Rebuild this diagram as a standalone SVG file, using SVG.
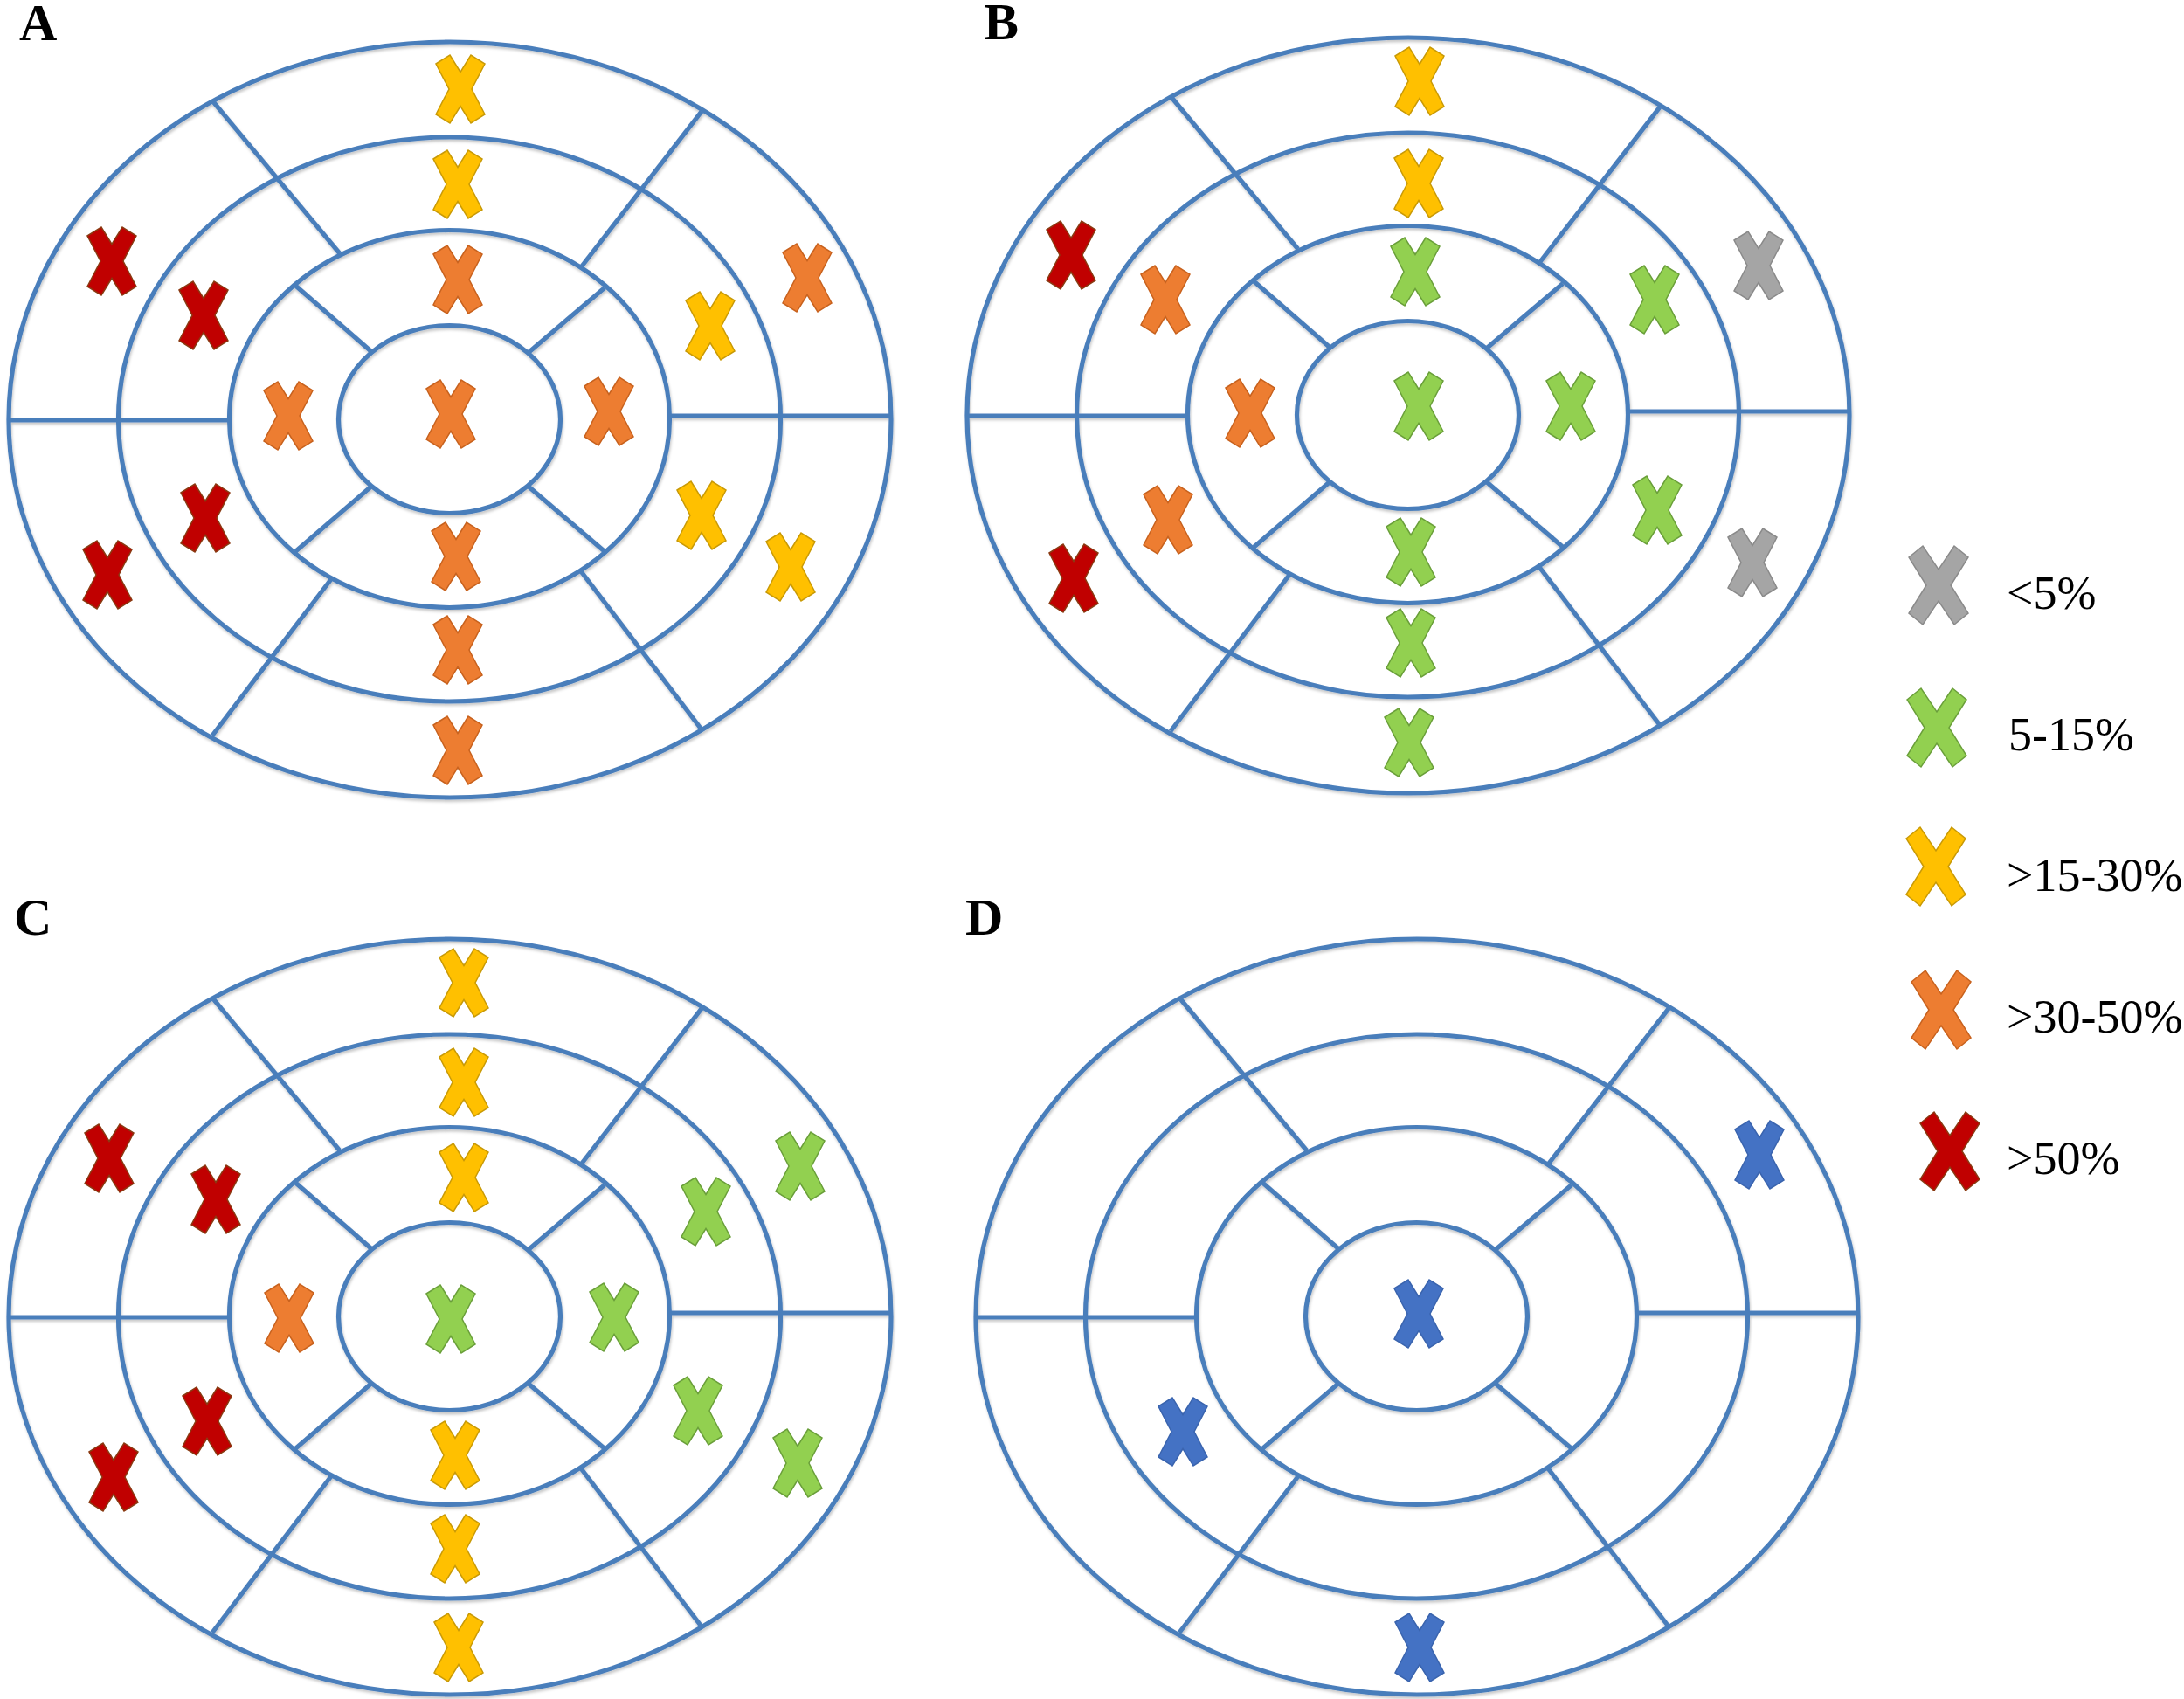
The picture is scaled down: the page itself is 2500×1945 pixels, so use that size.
<svg xmlns="http://www.w3.org/2000/svg" xmlns:xlink="http://www.w3.org/1999/xlink" width="2500" height="1945" viewBox="0 0 2500 1945">
<style>
.ring{fill:none;stroke:#4A7EBB;stroke-width:5.2}
.seg{stroke:#4A7EBB;stroke-width:5.2;stroke-linecap:butt}
.lbl{font-family:"Liberation Serif","Times New Roman",serif;font-weight:bold;font-size:60px;fill:#000}
.leg{font-family:"Liberation Serif","Times New Roman",serif;font-size:54px;fill:#000}
.gray{fill:#A5A5A5;stroke:#8A8A8A;stroke-width:1.5}
.green{fill:#92D050;stroke:#6A9F3A;stroke-width:1.5}
.yellow{fill:#FFC000;stroke:#C99A06;stroke-width:1.5}
.orange{fill:#ED7D31;stroke:#C8621E;stroke-width:1.5}
.red{fill:#C00000;stroke:#8A3A12;stroke-width:1.5}
.blue{fill:#4472C4;stroke:#3A64AE;stroke-width:1.5}
</style>
<defs>
<filter id="sh" x="-5%" y="-5%" width="110%" height="110%">
<feDropShadow dx="1" dy="2.5" stdDeviation="1.5" flood-color="#000" flood-opacity="0.22"/>
</filter>
<path id="xm" d="M-28,-29 L-12,-39 L0,-19.5 L12,-39 L28,-29 L13,0 L28,29 L12,39 L0,19.5 L-12,39 L-28,29 L-13,0 Z"/>
<path id="xl" d="M-34,-32 L-18,-45 L0,-18 L18,-45 L34,-32 L14,0 L34,32 L18,45 L0,18 L-18,45 L-34,32 L-14,0 Z"/>
<g id="grid" filter="url(#sh)">
<ellipse class="ring" cx="515" cy="480.5" rx="505" ry="432.5"/>
<ellipse class="ring" cx="514.5" cy="480" rx="379" ry="323"/>
<ellipse class="ring" cx="514.5" cy="479.5" rx="252" ry="216"/>
<ellipse class="ring" cx="514.5" cy="480" rx="127" ry="107.5"/>
<line class="seg" x1="10" y1="481" x2="262.5" y2="481"/>
<line class="seg" x1="767" y1="476" x2="1020" y2="476"/>
<line class="seg" x1="244.5" y1="117" x2="388.7" y2="290"/>
<line class="seg" x1="803" y1="127.7" x2="665" y2="306"/>
<line class="seg" x1="243" y1="842" x2="379" y2="663"/>
<line class="seg" x1="803" y1="835" x2="665" y2="654"/>
<line class="seg" x1="338.3" y1="327" x2="424.8" y2="402.2"/>
<line class="seg" x1="692" y1="329.6" x2="605" y2="403.4"/>
<line class="seg" x1="338.3" y1="631.2" x2="424.8" y2="557"/>
<line class="seg" x1="692" y1="631.2" x2="605" y2="557"/>
</g>
</defs>
<rect width="2500" height="1945" fill="#fff"/>

<g id="connectors">
<use href="#grid" xlink:href="#grid"/>
<use href="#grid" xlink:href="#grid" transform="translate(1097,-5)"/>
<use href="#grid" xlink:href="#grid" transform="translate(0,1027)"/>
<use href="#grid" xlink:href="#grid" transform="translate(1107,1027)"/>
</g>

<g id="panel-A">
<text class="lbl" x="22" y="46">A</text>
<use href="#xm" xlink:href="#xm" class="yellow" x="527" y="102"/>
<use href="#xm" xlink:href="#xm" class="yellow" x="524" y="211"/>
<use href="#xm" xlink:href="#xm" class="orange" x="524" y="320"/>
<use href="#xm" xlink:href="#xm" class="orange" x="516" y="474"/>
<use href="#xm" xlink:href="#xm" class="orange" x="330" y="476"/>
<use href="#xm" xlink:href="#xm" class="orange" x="697" y="471"/>
<use href="#xm" xlink:href="#xm" class="orange" x="522" y="637"/>
<use href="#xm" xlink:href="#xm" class="orange" x="524" y="744"/>
<use href="#xm" xlink:href="#xm" class="orange" x="524" y="859"/>
<use href="#xm" xlink:href="#xm" class="red" x="128" y="299"/>
<use href="#xm" xlink:href="#xm" class="red" x="233" y="361"/>
<use href="#xm" xlink:href="#xm" class="red" x="235" y="593"/>
<use href="#xm" xlink:href="#xm" class="red" x="123" y="658"/>
<use href="#xm" xlink:href="#xm" class="yellow" x="813" y="373"/>
<use href="#xm" xlink:href="#xm" class="orange" x="924" y="318"/>
<use href="#xm" xlink:href="#xm" class="yellow" x="803" y="590"/>
<use href="#xm" xlink:href="#xm" class="yellow" x="905" y="649"/>
</g>

<g id="panel-B">
<text class="lbl" x="1126" y="45">B</text>
<use href="#xm" xlink:href="#xm" class="yellow" x="1625" y="93"/>
<use href="#xm" xlink:href="#xm" class="yellow" x="1624" y="210"/>
<use href="#xm" xlink:href="#xm" class="green" x="1620" y="311"/>
<use href="#xm" xlink:href="#xm" class="green" x="1624" y="465"/>
<use href="#xm" xlink:href="#xm" class="orange" x="1431" y="473"/>
<use href="#xm" xlink:href="#xm" class="green" x="1798" y="465"/>
<use href="#xm" xlink:href="#xm" class="green" x="1615" y="632"/>
<use href="#xm" xlink:href="#xm" class="green" x="1615" y="736"/>
<use href="#xm" xlink:href="#xm" class="green" x="1613" y="850"/>
<use href="#xm" xlink:href="#xm" class="red" x="1226" y="292"/>
<use href="#xm" xlink:href="#xm" class="orange" x="1334" y="343"/>
<use href="#xm" xlink:href="#xm" class="orange" x="1337" y="595"/>
<use href="#xm" xlink:href="#xm" class="red" x="1229" y="662"/>
<use href="#xm" xlink:href="#xm" class="green" x="1894" y="343"/>
<use href="#xm" xlink:href="#xm" class="gray" x="2013" y="304"/>
<use href="#xm" xlink:href="#xm" class="green" x="1897" y="584"/>
<use href="#xm" xlink:href="#xm" class="gray" x="2006" y="644"/>
</g>

<g id="panel-C">
<text class="lbl" x="16" y="1070">C</text>
<use href="#xm" xlink:href="#xm" class="yellow" x="531" y="1125"/>
<use href="#xm" xlink:href="#xm" class="yellow" x="531" y="1239"/>
<use href="#xm" xlink:href="#xm" class="yellow" x="531" y="1348"/>
<use href="#xm" xlink:href="#xm" class="green" x="516" y="1510"/>
<use href="#xm" xlink:href="#xm" class="orange" x="331" y="1509"/>
<use href="#xm" xlink:href="#xm" class="green" x="703" y="1508"/>
<use href="#xm" xlink:href="#xm" class="yellow" x="521" y="1666"/>
<use href="#xm" xlink:href="#xm" class="yellow" x="521" y="1773"/>
<use href="#xm" xlink:href="#xm" class="yellow" x="525" y="1886"/>
<use href="#xm" xlink:href="#xm" class="red" x="125" y="1326"/>
<use href="#xm" xlink:href="#xm" class="red" x="247" y="1373"/>
<use href="#xm" xlink:href="#xm" class="red" x="237" y="1627"/>
<use href="#xm" xlink:href="#xm" class="red" x="130" y="1691"/>
<use href="#xm" xlink:href="#xm" class="green" x="808" y="1387"/>
<use href="#xm" xlink:href="#xm" class="green" x="916" y="1335"/>
<use href="#xm" xlink:href="#xm" class="green" x="799" y="1615"/>
<use href="#xm" xlink:href="#xm" class="green" x="913" y="1675"/>
</g>

<g id="panel-D">
<text class="lbl" x="1105" y="1070">D</text>
<use href="#xm" xlink:href="#xm" class="blue" x="2014" y="1322"/>
<use href="#xm" xlink:href="#xm" class="blue" x="1624" y="1504"/>
<use href="#xm" xlink:href="#xm" class="blue" x="1354" y="1639"/>
<use href="#xm" xlink:href="#xm" class="blue" x="1625" y="1886"/>
</g>

<g id="legend">
<g id="legend-lt5"><use href="#xl" xlink:href="#xl" class="gray" x="2219" y="670"/><text class="leg" x="2297" y="697">&lt;5%</text></g>
<g id="legend-5-15"><use href="#xl" xlink:href="#xl" class="green" x="2217" y="833"/><text class="leg" x="2299" y="859">5-15%</text></g>
<g id="legend-15-30"><use href="#xl" xlink:href="#xl" class="yellow" x="2216" y="992"/><text class="leg" x="2297" y="1020">&gt;15-30%</text></g>
<g id="legend-30-50"><use href="#xl" xlink:href="#xl" class="orange" x="2222" y="1156"/><text class="leg" x="2297" y="1182">&gt;30-50%</text></g>
<g id="legend-gt50"><use href="#xl" xlink:href="#xl" class="red" x="2232" y="1318"/><text class="leg" x="2297" y="1344">&gt;50%</text></g>
</g>
</svg>
